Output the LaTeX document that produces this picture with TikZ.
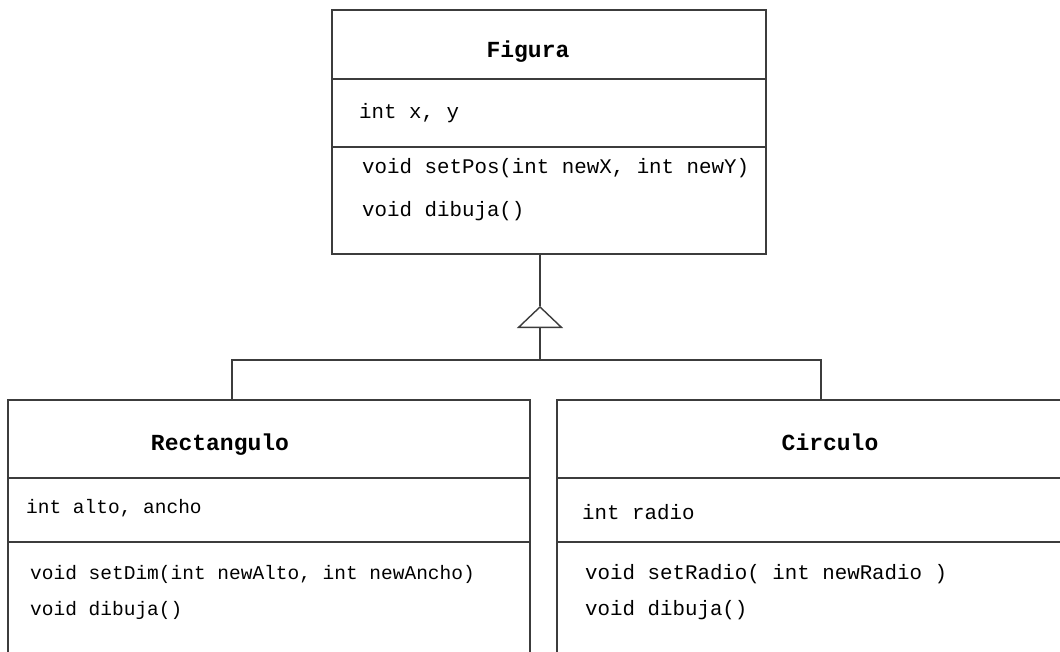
\documentclass[tikz,border=0pt]{standalone}
\usepackage{fontspec}
\setmonofont{Liberation Mono}
\usetikzlibrary{arrows.meta}
\definecolor{linegray}{HTML}{3C3C3C}
\tikzset{
  classbox/.style={draw=linegray, line width=1.5pt, fill=white, anchor=north west, inner sep=0pt, outer sep=0pt, minimum width=#1},
  sepline/.style={draw=linegray, line width=1.4pt},
  conn/.style={draw=linegray, line width=1.4pt},
  titletext/.style={anchor=base, inner sep=0pt, font=\ttfamily\bfseries\fontsize{23}{26}\selectfont},
  membertext/.style={anchor=base west, inner sep=0pt, font=\ttfamily\fontsize{20.8}{24}\selectfont},
  smallmember/.style={anchor=base west, inner sep=0pt, font=\ttfamily\fontsize{19.5}{23}\selectfont}
}
\begin{document}
\begin{tikzpicture}[x=1pt,y=-1pt]
\useasboundingbox (0,0) rectangle (1060,651);
\clip (0,0) rectangle (1060,651);
\fill[white] (0,0) rectangle (1060,651);

% Figura
\node[classbox=434pt, minimum height=244pt] (figura) at (332,10) {};
\path[sepline] (figura.west |- 0,79) -- (figura.east |- 0,79);
\path[sepline] (figura.west |- 0,147) -- (figura.east |- 0,147);
\node[titletext] (figT) at (528,57) {Figura};
\node[membertext] (figA) at (359,118) {int x, y};
\node[membertext] (figM1) at (362,173) {void setPos(int newX, int newY)};
\node[membertext] (figM2) at (362,216) {void dibuja()};

% Rectangulo
\node[classbox=522pt, minimum height=300pt] (rect) at (8,400) {};
\path[sepline] (rect.west |- 0,478) -- (rect.east |- 0,478);
\path[sepline] (rect.west |- 0,542) -- (rect.east |- 0,542);
\node[titletext] (rectT) at (220,450) {Rectangulo};
\node[smallmember] (rectA) at (26,513) {int alto, ancho};
\node[smallmember] (rectM1) at (30,579) {void setDim(int newAlto, int newAncho)};
\node[smallmember] (rectM2) at (30,615) {void dibuja()};

% Circulo
\node[classbox=522pt, minimum height=300pt] (circ) at (557,400) {};
\path[sepline] (circ.west |- 0,478) -- (circ.east |- 0,478);
\path[sepline] (circ.west |- 0,542) -- (circ.east |- 0,542);
\node[titletext] (circT) at (830,450) {Circulo};
\node[membertext] (circA) at (582,519) {int radio};
\node[membertext] (circM1) at (585,579) {void setRadio( int newRadio )};
\node[membertext] (circM2) at (585,615) {void dibuja()};

% Generalization connector
\coordinate (join) at (540,360);
\coordinate (apex) at (540,306);
\coordinate (lb) at (232,360);
\coordinate (rb) at (821,360);
\path[conn] (lb |- rect.north) -- (lb) -- (rb) -- (rb |- circ.north);
\path[conn, -{Triangle[open, width=46pt, length=22pt]}] (join) -- (apex);
\path[conn] (apex) -- (apex |- figura.south);
\end{tikzpicture}
\end{document}
